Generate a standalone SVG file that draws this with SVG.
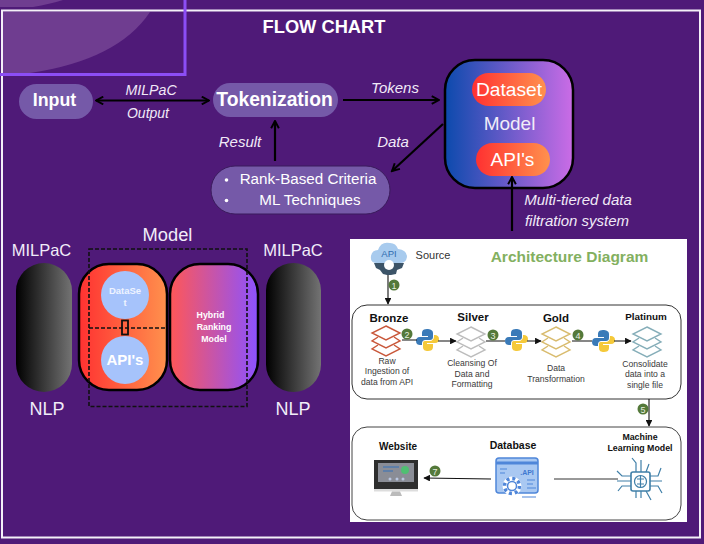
<svg xmlns="http://www.w3.org/2000/svg" width="704" height="544" viewBox="0 0 704 544">
<defs>
<style>
text{font-family:"Liberation Sans",Arial,sans-serif;fill:#fff;text-anchor:middle}
.i{font-style:italic;font-size:15px;fill:#f1e9f7}
.b{font-weight:bold}
.l{font-size:16.500px;fill:#f1ecf8}
.pill{fill:#7559a8}
.c{fill:none;stroke:#000;stroke-width:2.2}
.d{fill:none;stroke:#111;stroke-width:1.1}
.dk{font-size:8.600px;fill:#3a3a3a}
.h{font-size:11.500px;font-weight:bold;fill:#111}
.num{font-size:9px;fill:#e8efe0}
.numc{fill:#54793a}
.dash{fill:none;stroke:#111;stroke-width:1.6;stroke-dasharray:4 2}
</style>
<linearGradient id="gModel"><stop offset="0" stop-color="#0c4aad"/><stop offset="1" stop-color="#cb6ce6"/></linearGradient>
<linearGradient id="gOrange"><stop offset="0" stop-color="#ff3131"/><stop offset="1" stop-color="#ff914d"/></linearGradient>
<linearGradient id="gHybrid"><stop offset="0" stop-color="#ff5757"/><stop offset="1" stop-color="#8c52ff"/></linearGradient>
<linearGradient id="gDark"><stop offset="0" stop-color="#000"/><stop offset="1" stop-color="#737373"/></linearGradient>
<marker id="a" viewBox="0 0 10 10" refX="8.500" refY="5" markerWidth="4.400" markerHeight="4.400" orient="auto-start-reverse"><path d="M1 1 L8.500 5 L1 9" fill="none" stroke="#000" stroke-width="2"/></marker>
<marker id="s" viewBox="0 0 10 10" refX="9" refY="5" markerWidth="6" markerHeight="6" orient="auto"><path d="M0 0 L10 5 L0 10Z" fill="#111"/></marker>
<g id="stack" fill="none" stroke-width="1.400">
<path d="M0 -16 L14 -9 L0 -2 L-14 -9Z"/>
<path d="M-8 -5 L-14 -1 L0 6 L14 -1 L8 -5"/>
<path d="M-8 3 L-14 7 L0 14 L14 7 L8 3"/>
</g>
<g id="py">
<path d="M0 -11 C-5 -11 -5 -8 -5 -6 L-5 -4 L1 -4 L1 -3 L-7 -3 C-10 -3 -11 -1 -11 1 C-11 4 -9 5 -7 5 L-5 5 L-5 3 C-5 1 -3 0 -2 0 L3 0 C5 0 6 -1 6 -3 L6 -7 C6 -10 3 -11 0 -11Z" fill="#3a7ab8"/>
<path d="M1 11 C6 11 6 8 6 6 L6 4 L0 4 L0 3 L8 3 C11 3 12 1 12 -1 C12 -4 10 -5 8 -5 L7 -5 L7 -3 C7 -1 5 1 3 1 L-2 1 C-4 1 -4 2 -4 4 L-4 7 C-4 10 -2 11 1 11Z" fill="#f5c93a"/>
</g>
<g id="gear5"><circle r="6.500" fill="none" stroke="#fff" stroke-width="6"/><circle r="7.500" fill="none" stroke-width="3.500" stroke-dasharray="3 2.900"/><circle r="4.500" fill="#fff" stroke-width="1.500"/></g>
</defs>

<rect width="704" height="544" fill="#4f1a78"/>
<path d="M33 7 Q50 4 63 0 L0 0 L0 7Z" fill="#6f3d90"/>
<path d="M3 12 L150 12 Q118 60 30 73 L3 73Z" fill="#6f3d90"/>
<rect x="2" y="10.500" width="698" height="527" fill="none" stroke="#f4f0f8" stroke-width="2"/>
<path d="M185 0 V74.500 H0" fill="none" stroke="#8c4ef5" stroke-width="3"/>
<text x="324" y="33" style="font-size:18.300px" class="b">FLOW CHART</text>

<text class="i" x="151" y="95" style="font-size:14.200px">MILPaC</text>
<text class="i" x="148" y="118" style="font-size:14px">Output</text>
<text class="i" x="240" y="147">Result</text>
<text class="i" x="395" y="93">Tokens</text>
<text class="i" x="393" y="147">Data</text>
<text class="i" x="578" y="205">Multi-tiered data</text>
<text class="i" x="577" y="226">filtration system</text>

<g id="input"><rect class="pill" x="19" y="84" width="74" height="35" rx="17.500"/><text x="54.500" y="106" style="font-size:17.800px" class="b">Input</text></g>
<g id="tokenization"><rect class="pill" x="213" y="83" width="125" height="34" rx="17"/><text x="274.500" y="106" style="font-size:19.300px" class="b">Tokenization</text></g>
<g id="criteria"><rect x="211" y="166" width="179" height="48" rx="24" fill="#7559a8" stroke="#3a1a5c"/>
<circle cx="226.500" cy="180" r="1.800" fill="#fff"/><circle cx="226.500" cy="200.500" r="1.800" fill="#fff"/>
<text x="308" y="184" style="font-size:15.200px">Rank-Based Criteria</text><text x="310" y="205" style="font-size:15.200px">ML Techniques</text></g>
<g id="model"><rect x="445" y="60" width="128" height="128" rx="30" fill="url(#gModel)" stroke="#000" stroke-width="2.500"/>
<rect x="472" y="73" width="74" height="33" rx="16.500" fill="url(#gOrange)"/><text x="509" y="96" style="font-size:19.200px">Dataset</text>
<text x="509.500" y="130" style="font-size:19px;fill:#f1ecf8">Model</text>
<rect x="476" y="143" width="74" height="33" rx="16.500" fill="url(#gOrange)"/><text x="512.500" y="166" style="font-size:19px">API's</text></g>

<g id="connectors">
<path class="c" d="M96 100.500 H209" marker-start="url(#a)" marker-end="url(#a)"/>
<path class="c" d="M275 161 V121" marker-end="url(#a)"/>
<path class="c" d="M343 100 H439" marker-end="url(#a)"/>
<path class="c" d="M443 124 L392 171" marker-end="url(#a)"/>
<path class="c" d="M512 231 V177" marker-end="url(#a)"/>
</g>

<text class="l" x="167.500" y="241" style="font-size:18.300px">Model</text>
<text class="l" x="41.500" y="256">MILPaC</text><text class="l" x="293" y="256">MILPaC</text>
<text class="l" x="47" y="415" style="font-size:18px">NLP</text><text class="l" x="293" y="415" style="font-size:18px">NLP</text>
<g id="nlp-left"><rect x="16" y="263" width="56" height="129" rx="28" fill="url(#gDark)"/></g>
<g id="nlp-right"><rect x="266" y="263" width="55" height="129" rx="27.500" fill="url(#gDark)"/></g>
<g id="hybrid"><rect x="170" y="264" width="88" height="126" rx="30" fill="url(#gHybrid)" stroke="#000" stroke-width="2.500"/>
<text x="210.500" y="318" style="font-size:8.800px" class="b">Hybrid</text><text x="214" y="330" style="font-size:8.800px" class="b">Ranking</text><text x="214" y="342" style="font-size:8.800px" class="b">Model</text></g>
<g id="source-block"><rect x="79" y="264" width="88" height="126" rx="30" fill="url(#gOrange)" stroke="#000" stroke-width="2.500"/>
<circle cx="125" cy="295" r="24" fill="#a6c3fb"/><circle cx="125" cy="360" r="24" fill="#a6c3fb"/>
<text x="125" y="294" style="font-size:9.500px;fill:#eef3ff" class="b">DataSe</text><text x="125" y="306" style="font-size:9.500px;fill:#eef3ff" class="b">t</text>
<text x="125" y="365" style="font-size:15px" class="b">API's</text>
<rect x="122" y="320.500" width="6" height="14" fill="none" stroke="#111" stroke-width="1.800"/></g>
<path class="dash" d="M89 249 H247 V406.500 H89Z M89 328 H166"/>

<g id="arch">
<rect x="350" y="239" width="337" height="283" fill="#fff"/>
<text x="569.500" y="262" style="font-size:15.500px;fill:#83b05f" class="b">Architecture Diagram</text>
<text x="433" y="259" style="font-size:11px;fill:#333">Source</text>
<g id="api-icon">
<path d="M376 263 Q370 263 371 256 Q372 250 378 250 Q381 241 390 243 Q396 243 398 249 Q407 250 407 257 Q406 263 400 263Z" fill="#a8cbee"/>
<text x="389" y="257" style="font-size:9.500px;fill:#2f6db0">API</text>
<path d="M374 263 H404 L402 268 L397 270 L396 274 L391 275 L387 275 L383 274 L380 270 L376 268Z" fill="#3c5468"/>
<circle cx="389" cy="265" r="5" fill="#fff"/>
</g>
<path class="d" d="M388 275 V304" marker-end="url(#s)"/>
<circle class="numc" cx="394" cy="285" r="5.500"/><text class="num" x="394" y="288.500">1</text>

<rect x="352" y="305" width="329" height="94" rx="15" fill="none" stroke="#333" stroke-width="1"/>
<text class="h" x="389" y="322">Bronze</text><text class="h" x="473" y="321">Silver</text><text class="h" x="556" y="322">Gold</text><text class="h" x="646" y="320" style="font-size:9.900px">Platinum</text>
<use href="#stack" x="386" y="342" stroke="#c9583b"/>
<use href="#stack" x="471" y="343" stroke="#bdbdbd"/>
<use href="#stack" x="556" y="343" stroke="#d9bc6f"/>
<use href="#stack" x="647" y="343" stroke="#86aeb9"/>
<use href="#py" x="427" y="340"/><use href="#py" x="516" y="340"/><use href="#py" x="603" y="341"/>
<path class="d" d="M402 340 H417 M438 341 H456" marker-end="url(#s)"/>
<path class="d" d="M486 341 H505 M527 341 H541" marker-end="url(#s)"/>
<path class="d" d="M572 341 H592 M614 341 H631" marker-end="url(#s)"/>
<circle class="numc" cx="407" cy="334" r="5.500"/><text class="num" x="407" y="337.500">2</text>
<circle class="numc" cx="493" cy="335" r="5.500"/><text class="num" x="493" y="338.500">3</text>
<circle class="numc" cx="578" cy="335" r="5.500"/><text class="num" x="578" y="338.500">4</text>
<text class="dk" x="387" y="364">Raw</text><text class="dk" x="387" y="374">Ingestion of</text><text class="dk" x="387" y="385">data from API</text>
<text class="dk" x="472" y="366">Cleansing Of</text><text class="dk" x="472" y="377">Data and</text><text class="dk" x="472" y="387">Formatting</text>
<text class="dk" x="556" y="371">Data</text><text class="dk" x="556" y="382">Transformation</text>
<text class="dk" x="645" y="367">Consolidate</text><text class="dk" x="645" y="377">data into a</text><text class="dk" x="645" y="388">single file</text>
<path class="d" d="M649 399 V426" marker-end="url(#s)"/>
<circle class="numc" cx="643" cy="409" r="5.500"/><text class="num" x="643" y="412.500">5</text>

<rect x="352" y="427" width="329" height="93" rx="15" fill="none" stroke="#444" stroke-width="1"/>
<text class="h" x="398" y="450" style="font-size:10px">Website</text>
<text class="h" x="513" y="449" style="font-size:10.500px">Database</text>
<text class="h" x="640" y="440" style="font-size:8.800px">Machine</text><text class="h" x="640" y="451" style="font-size:8.800px">Learning Model</text>
<g id="website-icon"><rect x="374" y="460" width="44" height="29" fill="#2e2e2e"/><rect x="378" y="463" width="36" height="19" fill="#8a8d96"/><rect x="383" y="466" width="16" height="2" fill="#5f7fa8"/><rect x="383" y="470" width="10" height="2" fill="#5f7fa8"/><circle cx="405" cy="470" r="4" fill="#4fbf72"/><circle cx="390" cy="479" r="1.500" fill="#b9c6e0"/><circle cx="397" cy="479" r="1.500" fill="#b9c6e0"/><circle cx="403" cy="479" r="1.500" fill="#b9c6e0"/><rect x="374" y="489" width="44" height="2.500" fill="#ddd"/><path d="M392 491.500 H400 L402 496 H390Z" fill="#bbb"/></g>
<g id="database-icon"><rect x="496" y="458" width="42" height="35" rx="3" fill="#a9c8f2" stroke="#4f86d9" stroke-width="1.500"/><path d="M496 463 H538" stroke="#4f86d9" stroke-width="3"/><text x="527" y="475" style="font-size:7px;fill:#3f78d0" class="b">.API</text><use href="#gear5" x="512" y="486" stroke="#4f86d9"/><path d="M527 480 H535 M527 484 H533 M527 488 H536 M500 469 H507 M500 473 H505 M522 497 H536" stroke="#4f86d9" stroke-width="1.200"/></g>
<g id="ml-icon" fill="none" stroke="#3f7fa8" stroke-width="1.200"><rect x="631" y="472" width="19" height="19" rx="2" stroke-width="1.600"/><circle cx="640.500" cy="481.500" r="6"/><path d="M640.500 475.500 V487.500 M637 479 H644 M637 484 H644"/><path d="M631 476 H622 L617 471 M631 481 H617 M631 486 H622 L618 491 M650 476 H658 L661 468 M650 481 H662 M650 486 H658 L662 493 M636 472 V463 L632 458 M641 472 V460 M646 472 L649 464 M636 491 V498 M641 491 V498 M646 491 L651 500"/></g>
<path class="d" d="M491 479 L424 478" marker-end="url(#s)"/>
<path d="M554 479 H618" stroke="#333" stroke-width="1" fill="none"/>
<circle class="numc" cx="435" cy="471" r="5.500"/><text class="num" x="435" y="474.500">7</text>
</g>
</svg>
